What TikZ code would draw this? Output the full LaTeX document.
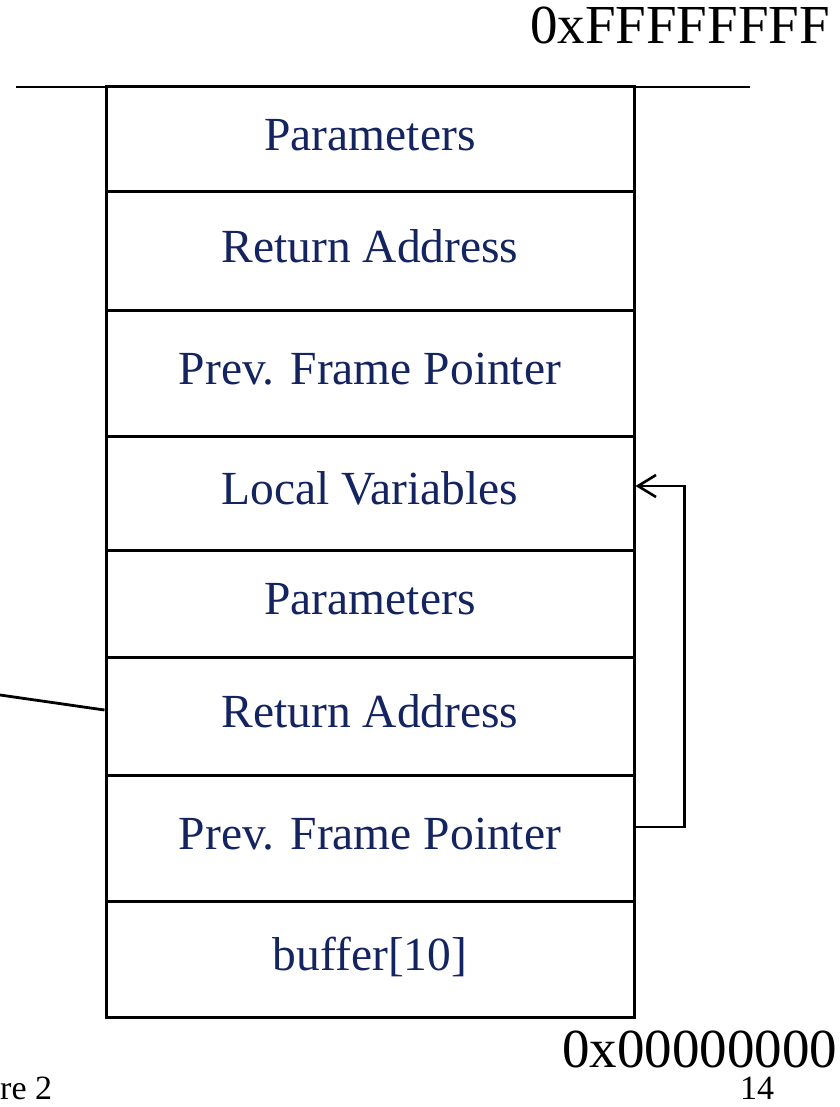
\documentclass[tikz,border=0pt]{standalone}
\usepackage{fontspec}
\setmainfont{Liberation Serif}
\usetikzlibrary{arrows.meta}
\definecolor{labelblue}{RGB}{20,36,96}
\begin{document}
\begin{tikzpicture}[x=1pt,y=-1pt,
  cell/.style={draw, line width=3pt, minimum width=528pt, inner sep=0pt,
    text=labelblue, font=\fontsize{47.5}{50}\selectfont,
    text height=34pt, text depth=11.6pt},
  addr/.style={inner sep=0pt, font=\fontsize{55}{58}\selectfont,
    text height=38pt, text depth=0pt},
  foot/.style={inner sep=0pt, font=\fontsize{34}{36}\selectfont,
    text height=24pt, text depth=0pt},
  link/.style={line width=2.8pt},
  ptr/.style={line width=2.6pt, -{Straight Barb[length=18pt,width=22pt,line width=2.6pt]}}]
\useasboundingbox (0,0) rectangle (839,1107);
\fill[white] (0,0) rectangle (839,1107);

% stack frames, top of memory first
\node[cell, minimum height=105pt] (par1) at (370,139.5) {Parameters};
\node[cell, minimum height=118pt] (ret1) at (370,251) {Return Address};
\node[cell, minimum height=126pt] (pfp1) at (370,373) {Prev. Frame Pointer};
\node[cell, minimum height=114pt] (lv)   at (370,493) {Local Variables};
\node[cell, minimum height=107pt] (par2) at (370,603.5) {Parameters};
\node[cell, minimum height=118pt] (ret2) at (370,716) {Return Address};
\node[cell, minimum height=126pt] (pfp2) at (370,838) {Prev. Frame Pointer};
\node[cell, minimum height=116pt] (buf)  at (370,959) {buffer[10]};

% address labels
\node[addr, anchor=base west] (hi) at (530,44) {0xFFFFFFFF};
\node[addr, anchor=base west] (lo) at (562,1067) {0x00000000};

% footer
\node[foot, anchor=base west] (lec) at (0,1099) {re 2};
\node[foot, anchor=base west] (pg)  at (740,1099) {14};

% top of stack line
\coordinate (tl) at (16,87);
\coordinate (tr) at (750,87);
\draw[link] (tl) -- (tr);

% line coming in from the left
\coordinate (lf) at (0,695);
\draw[link] (lf) -- ([yshift=6pt]ret2.west);

% saved frame pointer link
\draw[ptr] ([yshift=11pt]pfp2.east) -- ++(49,0) |- ([yshift=7pt]lv.east);
\end{tikzpicture}
\end{document}
